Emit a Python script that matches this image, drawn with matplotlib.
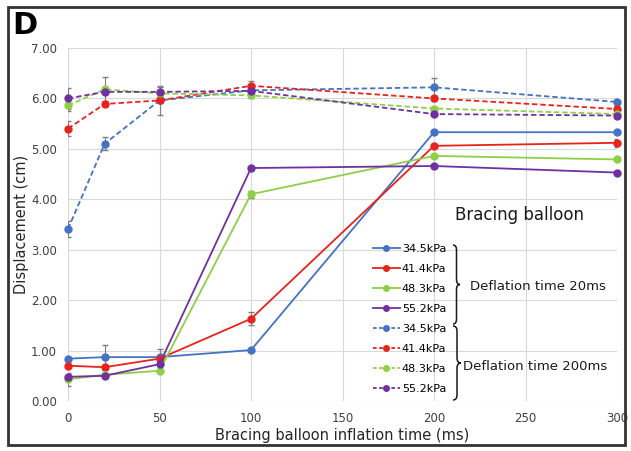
import matplotlib
matplotlib.use('Agg')
import matplotlib.pyplot as plt
from matplotlib.patches import Rectangle, PathPatch
from matplotlib.path import Path
from matplotlib.lines import Line2D

# inflation time of the bracing balloon (ms)
times = [0, 20, 50, 100, 200, 300]
pressures = ['34.5kPa', '41.4kPa', '48.3kPa', '55.2kPa']
colors = ['#4472C4', '#E8231B', '#8ED045', '#7030A0']

# deflation time 20ms (solid)
fast_vals = [
    [0.84, 0.87, 0.87, 1.01, 5.33, 5.33],
    [0.70, 0.67, 0.84, 1.63, 5.06, 5.12],
    [0.43, 0.52, 0.60, 4.10, 4.86, 4.79],
    [0.48, 0.50, 0.73, 4.62, 4.66, 4.53],
]
fast_err = [
    [0.03, 0.25, 0.03, 0.02, 0.02, 0.02],
    [0.03, 0.03, 0.20, 0.13, 0.03, 0.08],
    [0.13, 0.03, 0.03, 0.07, 0.02, 0.02],
    [0.05, 0.03, 0.03, 0.02, 0.02, 0.02],
]
# deflation time 200ms (dashed)
slow_vals = [
    [3.41, 5.10, 5.96, 6.16, 6.22, 5.93],
    [5.40, 5.89, 5.96, 6.25, 6.00, 5.79],
    [5.86, 6.18, 6.10, 6.06, 5.80, 5.69],
    [6.00, 6.13, 6.13, 6.15, 5.69, 5.66],
]
slow_err = [
    [0.15, 0.13, 0.05, 0.05, 0.18, 0.05],
    [0.15, 0.05, 0.28, 0.10, 0.05, 0.05],
    [0.10, 0.25, 0.05, 0.05, 0.03, 0.03],
    [0.20, 0.05, 0.10, 0.05, 0.03, 0.03],
]

W, H = 631, 451
fig = plt.figure(figsize=(W / 100, H / 100), dpi=100)

def fx(px):
    return px / W

def fy(py):
    return 1 - py / H

# outer frame of the panel
fig.patches.append(Rectangle((fx(8), fy(445)), fx(625) - fx(8), fy(7) - fy(445),
                             transform=fig.transFigure, fill=False,
                             edgecolor='#333333', linewidth=2))
fig.text(fx(12), fy(26), 'D', fontsize=22, fontweight='bold', va='center', ha='left')

ax = fig.add_axes([fx(68), fy(401), fx(617) - fx(68), fy(48) - fy(401)])

handles = []
for i in range(4):
    line, caps, bars = ax.errorbar(times, fast_vals[i], yerr=fast_err[i], color=colors[i],
                                   marker='o', markersize=5, linewidth=1.3, ecolor='#7f7f7f',
                                   elinewidth=0.8, capsize=2)
    line.set_clip_on(False)
    handles.append(Line2D([], [], color=colors[i], marker='o', markersize=4,
                          linewidth=1.3, label=pressures[i]))
for i in range(4):
    line, caps, bars = ax.errorbar(times, slow_vals[i], yerr=slow_err[i], color=colors[i],
                                   marker='o', markersize=5, linewidth=1.3, linestyle=(0, (3, 1.6)),
                                   ecolor='#7f7f7f', elinewidth=0.8, capsize=2)
    line.set_clip_on(False)
    handles.append(Line2D([], [], color=colors[i], marker='o', markersize=4,
                          linewidth=1.3, linestyle=(0, (2, 1.4)), label=pressures[i]))

ax.set_xlim(0, 300)
ax.set_ylim(0, 7)
ax.set_xticks([0, 50, 100, 150, 200, 250, 300])
ax.set_yticks([0, 1, 2, 3, 4, 5, 6, 7])
ax.set_yticklabels(['%.2f' % v for v in range(8)])
ax.grid(True, color='#d9d9d9', linewidth=0.8)
ax.set_axisbelow(True)
for s in ax.spines.values():
    s.set_visible(False)
ax.tick_params(length=0, labelsize=8.5, labelcolor='#404040', pad=8)
ax.set_xlabel('Bracing balloon inflation time (ms)', fontsize=10.5, color='#262626', labelpad=2)
ax.set_ylabel('Displacement (cm)', fontsize=10.5, color='#262626', labelpad=1)

leg = ax.legend(handles=handles, loc='upper left',
                bbox_to_anchor=((373 - 68) / (617 - 68), (401 - 244) / 353),
                frameon=False, fontsize=8, labelspacing=0.9, handlelength=2.4,
                handletextpad=0.2, borderaxespad=0, borderpad=0)

fig.text(fx(455), fy(215), 'Bracing balloon', fontsize=12, va='center', ha='left', color='#1a1a1a')
fig.text(fx(470), fy(286), 'Deflation time 20ms', fontsize=9.5, va='center', ha='left', color='#1a1a1a')
fig.text(fx(463), fy(367), 'Deflation time 200ms', fontsize=9.5, va='center', ha='left', color='#1a1a1a')

def brace(x0, top, bot, w):
    mid = (top + bot) / 2
    xm = x0 + w / 2
    r = 5
    pts = [(x0, top), (xm, top), (xm, top + r), (xm, mid - r), (xm, mid), (x0 + w, mid),
           (xm, mid), (xm, mid + r), (xm, bot - r), (xm, bot), (x0, bot)]
    codes = [Path.MOVETO, Path.CURVE3, Path.CURVE3, Path.LINETO, Path.CURVE3, Path.CURVE3,
             Path.CURVE3, Path.CURVE3, Path.LINETO, Path.CURVE3, Path.CURVE3]
    pts = [(fx(px), fy(py)) for px, py in pts]
    fig.patches.append(PathPatch(Path(pts, codes), transform=fig.transFigure,
                                 fill=False, edgecolor='#1a1a1a', linewidth=1.1))

brace(453, 245, 324, 7)
brace(453, 326, 400, 8)

fig.savefig('out.png', dpi=100)
